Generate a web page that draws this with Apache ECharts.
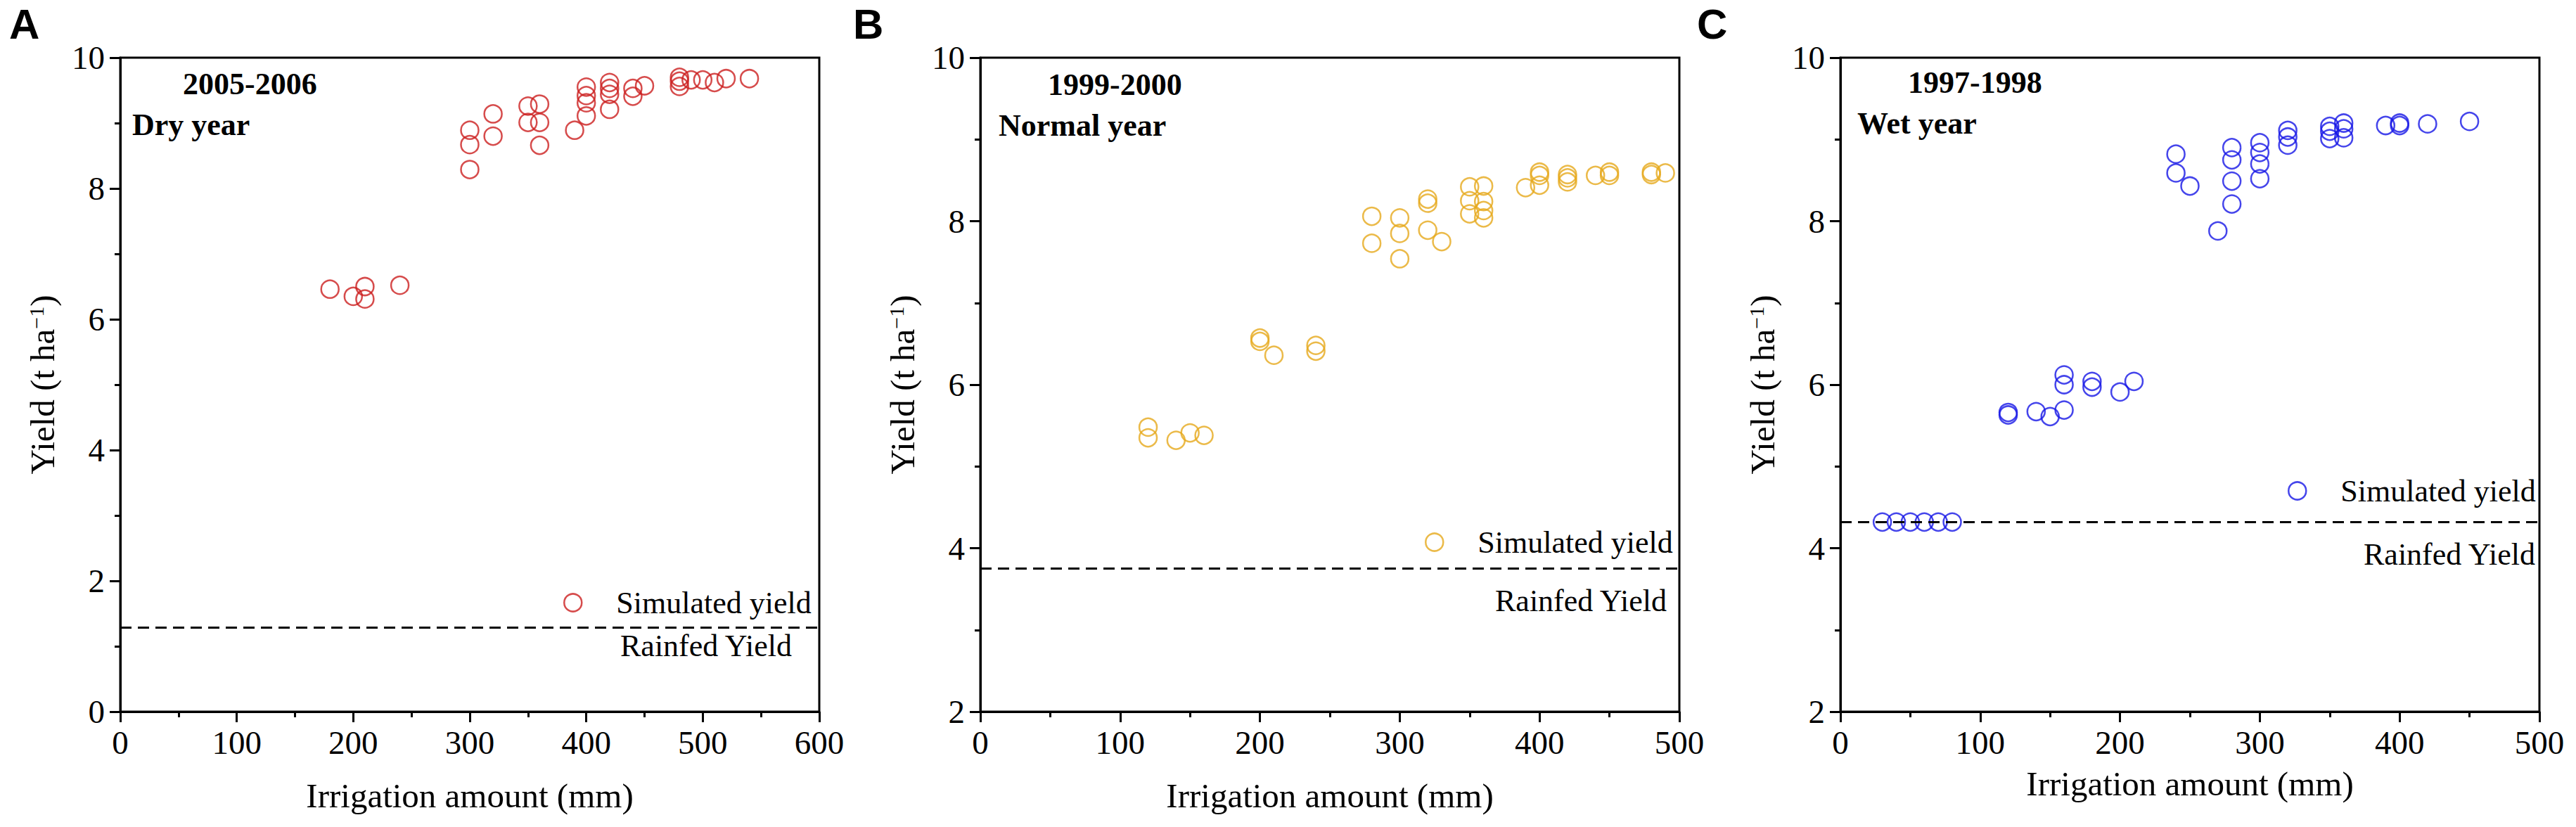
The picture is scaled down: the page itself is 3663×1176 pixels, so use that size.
<!DOCTYPE html>
<html>
<head>
<meta charset="utf-8">
<script src="https://cdn.jsdelivr.net/npm/echarts@6/dist/echarts.min.js"></script>
<style>
  html, body { margin: 0; padding: 0; background: #fff; }
  #chart { width: 3663px; height: 1176px; }
</style>
</head>
<body>
<div id="chart"></div>
<script>
// A: 2005-2006 dry year
var irrigA = [180, 200, 210, 210, 240, 300, 300, 300, 320, 320, 350, 350, 360, 360, 360, 390,
  400, 400, 400, 400, 420, 420, 420, 420, 440, 440, 450, 480, 480, 480, 490, 500, 510, 520, 540];
var yieldA = [6.46, 6.35, 6.50, 6.31, 6.52, 8.89, 8.67, 8.29, 9.14, 8.80, 9.26, 9.01, 9.29, 9.01, 8.66, 8.89,
  9.55, 9.42, 9.31, 9.11, 9.62, 9.53, 9.44, 9.21, 9.53, 9.41, 9.57, 9.70, 9.64, 9.56, 9.66, 9.66, 9.62, 9.68, 9.68];
var rainfedA = 1.29;

// B: 1999-2000 normal year
var irrigB = [120, 120, 140, 150, 160, 200, 200, 210, 240, 240, 280, 280, 300, 300, 300, 320, 320, 320, 330,
  350, 350, 350, 360, 360, 360, 360, 390, 400, 400, 400, 420, 420, 420, 440, 450, 450, 480, 480, 490];
var yieldB = [5.48, 5.35, 5.32, 5.41, 5.38, 6.57, 6.53, 6.36, 6.48, 6.41, 8.06, 7.73, 8.04, 7.85, 7.54, 8.27, 8.22, 7.89, 7.75,
  8.42, 8.25, 8.09, 8.43, 8.24, 8.13, 8.04, 8.41, 8.60, 8.56, 8.44, 8.57, 8.53, 8.48, 8.56, 8.60, 8.56, 8.60, 8.57, 8.59];
var rainfedB = 3.75;

// C: 1997-1998 wet year
var irrigC = [30, 40, 50, 60, 70, 80, 120, 120, 140, 150, 160, 160, 160, 180, 180, 200, 210,
  240, 240, 250, 270, 280, 280, 280, 280, 300, 300, 300, 300, 320, 320, 320,
  350, 350, 350, 360, 360, 360, 390, 400, 400, 420, 450];
var yieldC = [4.32, 4.32, 4.32, 4.32, 4.32, 4.32, 5.66, 5.63, 5.67, 5.61, 6.12, 6.00, 5.69, 6.04, 5.97, 5.91, 6.04,
  8.82, 8.59, 8.43, 7.88, 8.90, 8.75, 8.49, 8.21, 8.96, 8.84, 8.70, 8.52, 9.11, 9.03, 8.93,
  9.16, 9.10, 9.01, 9.20, 9.13, 9.02, 9.17, 9.20, 9.17, 9.19, 9.22];
var rainfedC = 4.32;

var panelLetters = ["A", "B", "C"];
var seasons = ["2005-2006", "1999-2000", "1997-1998"];
var yearTypes = ["Dry year", "Normal year", "Wet year"];
var xMax = [600, 500, 500];
var yMin = [0, 2, 2];
var colors = ["#cc1f1f", "#e6a91c", "#1616e6"];

var irrig = [irrigA, irrigB, irrigC];
var yields = [yieldA, yieldB, yieldC];
var rainfed = [rainfedA, rainfedB, rainfedC];

// layout (pixels)
var gridLeft = [171, 1394, 2617];
var gridWidth = 994;
var gridTop = 82;
var gridHeight = 930;
var seasonPos = [[89, 122], [96, 123], [96, 120]];
var typePos = [[17, 180], [26, 181], [24, 178]];
var legendPos = [[796, 854], [2021, 768], [3248, 695]];
var rainfedDist = [[39, 4], [18, 24], [6, 24]];
var xNameGap = [95, 95, 78];

var serif = "'Liberation Serif', 'Times New Roman', serif";
var grids = [], xAxes = [], yAxes = [], series = [], legends = [], graphics = [];

for (var i = 0; i < 3; i++) {
  grids.push({
    left: gridLeft[i], top: gridTop, width: gridWidth, height: gridHeight,
    show: true, borderColor: "#000", borderWidth: 3
  });
  xAxes.push({
    gridIndex: i, type: "value", min: 0, max: xMax[i], interval: 100,
    name: "Irrigation amount (mm)", nameLocation: "middle", nameGap: xNameGap[i],
    nameTextStyle: { fontFamily: serif, fontSize: 49, color: "#000" },
    axisLine: { show: true, lineStyle: { color: "#000", width: 3 } },
    axisTick: { show: true, inside: false, length: 15, lineStyle: { color: "#000", width: 3 } },
    minorTick: { show: true, splitNumber: 2, length: 8, lineStyle: { color: "#000", width: 3 } },
    axisLabel: { fontFamily: serif, fontSize: 47, color: "#000", margin: 20 },
    splitLine: { show: false }
  });
  yAxes.push({
    gridIndex: i, type: "value", min: yMin[i], max: 10, interval: 2,
    name: "{a|Yield (t ha}{s|−1}{a|)}", nameLocation: "middle", nameGap: 86, nameRotate: 90,
    nameTextStyle: {
      fontFamily: serif,
      rich: {
        a: { fontFamily: serif, fontSize: 49, color: "#000" },
        s: { fontFamily: serif, fontSize: 30, color: "#000", verticalAlign: "top" }
      }
    },
    axisLine: { show: true, lineStyle: { color: "#000", width: 3 } },
    axisTick: { show: true, inside: false, length: 15, lineStyle: { color: "#000", width: 3 } },
    minorTick: { show: true, splitNumber: 2, length: 8, lineStyle: { color: "#000", width: 3 } },
    axisLabel: { fontFamily: serif, fontSize: 47, color: "#000", margin: 22 },
    splitLine: { show: false }
  });
  var pts = irrig[i].map(function (x, k) { return [x, yields[i][k]]; });
  series.push({
    name: "sim" + panelLetters[i],
    type: "scatter",
    xAxisIndex: i, yAxisIndex: i,
    data: pts,
    symbol: "circle", symbolSize: 25,
    itemStyle: { color: "rgba(0,0,0,0)", borderColor: colors[i], borderWidth: 2.5 },
    markLine: {
      silent: true, symbol: "none",
      lineStyle: { color: "#000", type: [16, 9], width: 3 },
      label: {
        show: true, position: "insideEndBottom", formatter: "Rainfed Yield",
        fontFamily: serif, fontSize: 44, color: "#000", distance: rainfedDist[i]
      },
      data: [{ yAxis: rainfed[i] }]
    }
  });
  legends.push({
    data: ["sim" + panelLetters[i]],
    left: legendPos[i][0], top: legendPos[i][1] - 24,
    itemWidth: 25, itemHeight: 25,
    formatter: function () { return "Simulated yield"; },
    textStyle: { fontFamily: serif, fontSize: 44, color: "#000", padding: [0, 0, 0, 44] },
    itemStyle: { color: "rgba(0,0,0,0)", borderColor: colors[i], borderWidth: 2.5 },
    selectedMode: false
  });
  // panel letter and season notes
  graphics.push({
    type: "text", left: 13 + i * 1200, top: 4,
    style: { text: panelLetters[i], font: "bold 60px 'Liberation Sans', Arial, sans-serif", fill: "#000" }
  });
  graphics.push({
    type: "text", left: gridLeft[i] + seasonPos[i][0], top: seasonPos[i][1] - 25,
    style: { text: seasons[i], font: "bold 44px " + serif, fill: "#000" }
  });
  graphics.push({
    type: "text", left: gridLeft[i] + typePos[i][0], top: typePos[i][1] - 25,
    style: { text: yearTypes[i], font: "bold 44px " + serif, fill: "#000" }
  });
}

var chart = echarts.init(document.getElementById("chart"), null, { renderer: "svg" });
chart.setOption({
  backgroundColor: "#fff",
  animation: false,
  textStyle: { fontFamily: serif, color: "#000" },
  grid: grids,
  xAxis: xAxes,
  yAxis: yAxes,
  legend: legends,
  graphic: graphics,
  series: series
});
</script>
</body>
</html>
